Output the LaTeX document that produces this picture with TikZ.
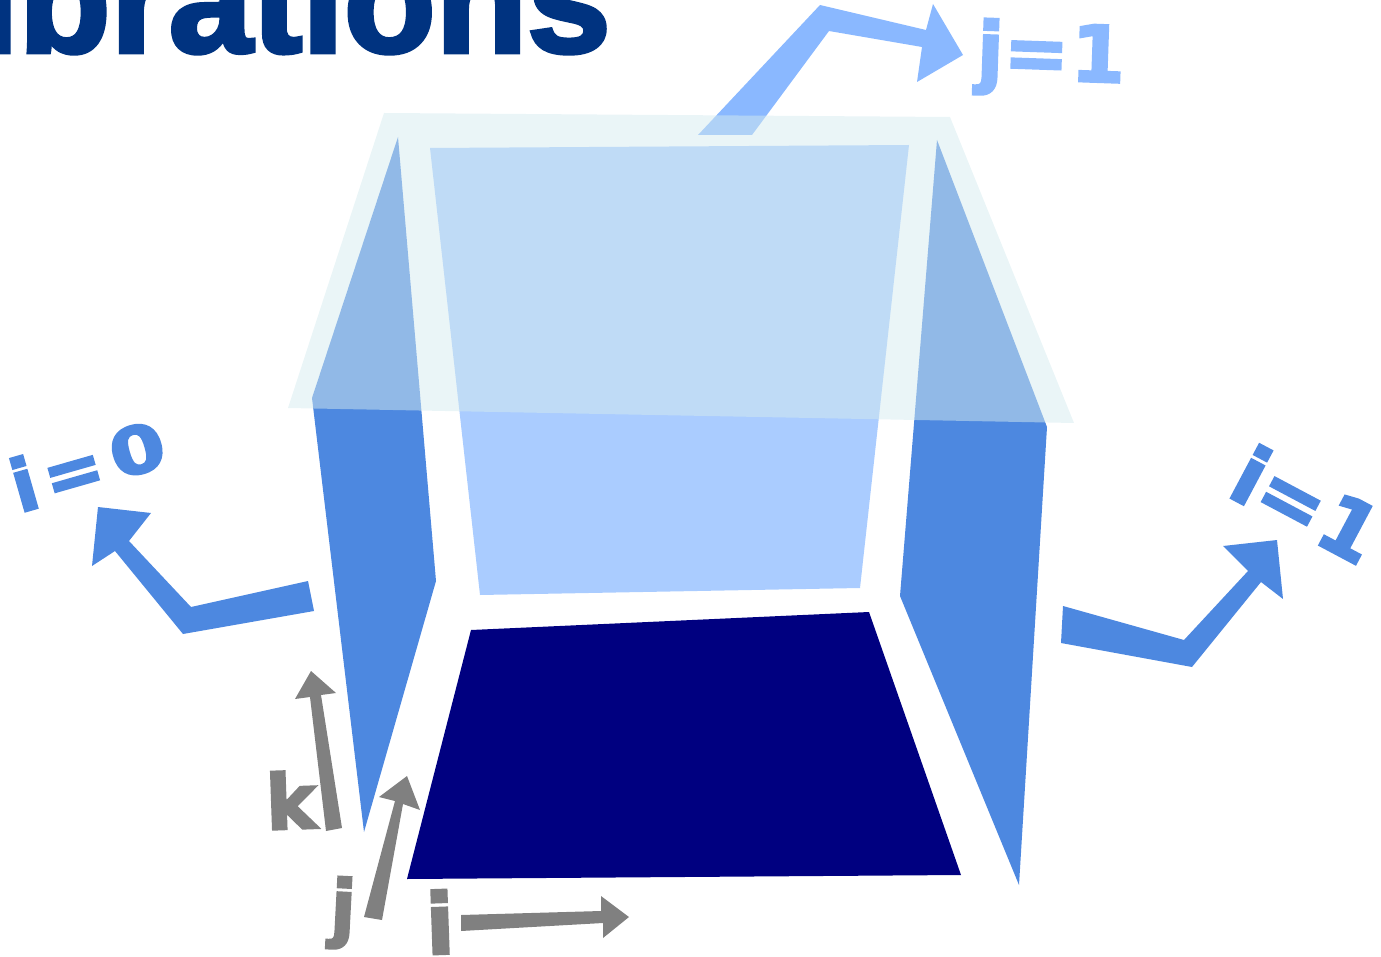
\documentclass[tikz,border=0pt]{standalone}
\usepackage{fontspec}
\setmainfont{DejaVu Sans}
\newfontfamily\titlefont[FakeBold=3]{Liberation Sans Bold}
\newfontfamily\labfont[FakeBold=3]{DejaVu Sans Bold}
\definecolor{navyface}{HTML}{000080}
\definecolor{sideface}{HTML}{4D88E0}
\definecolor{backface}{HTML}{AACCFF}
\definecolor{toparrow}{HTML}{8AB8FF}
\definecolor{topface}{HTML}{D5EBEF}
\definecolor{titleblue}{HTML}{003380}
\definecolor{axisgray}{HTML}{808080}
\tikzset{
  lab/.style={inner sep=0pt,font=\labfont\fontsize{#1}{#1}\selectfont},
}
\begin{document}
\begin{tikzpicture}[x=1pt,y=-1pt]
\useasboundingbox (0,0) rectangle (1381,957);
\clip (0,0) rectangle (1381,957);
% title
\node[anchor=base west,inner sep=0pt,text=titleblue] (title) at (-23,52) {\titlefont\fontsize{150}{150}\selectfont ibrations};
% top arrow below the overlay
\fill[toparrow] (698,135)--(752,135)--(829,31)--(922,47)--(917,82)--(963,55)--(933,4)--(926,30)--(820,5)--cycle;
% panels
\fill[backface] (430,148)--(909,145)--(860,588)--(480,595)--cycle;
\fill[sideface] (398,137)--(436,581)--(364,832)--(312,398)--cycle;
\fill[sideface] (937,140)--(1047,427)--(1019,885)--(900,596)--cycle;
\fill[navyface] (471,630)--(869,612)--(961,875)--(407,879)--cycle;
% translucent top face
\fill[topface,opacity=.5] (384,113)--(950,117)--(1074,423)--(288,408)--cycle;
% blue arrows
\fill[sideface] (308,581)--(314,611)--(183,634)--(115,551)--(92,566)--(98,507)--(151,513)--(129,541)--(191,607)--cycle;
\fill[sideface] (1063,606)--(1061,643)--(1192,667)--(1261,582)--(1283,599)--(1277,540)--(1223,546)--(1248,571)--(1184,640)--cycle;
% axis arrows
\fill[axisgray] (326,831)--(342,828)--(321,695)--(336,693)--(311,671)--(295,699)--(310,697)--cycle;
\fill[axisgray] (364,917)--(382,920)--(403,804)--(420,810)--(407,776)--(379,797)--(395,801)--cycle;
\fill[axisgray] (461,915)--(461,931)--(603,923)--(603,938)--(629,917)--(601,896)--(601,911)--cycle;
% labels
\node[lab=76,text=axisgray,rotate=2] (labk) at (291,800) {k};
\node[lab=74,text=axisgray,rotate=-3] (labj) at (343,913) {j};
\node[lab=84,text=axisgray,rotate=2] (labi) at (440,922) {i};
\node[lab=78,text=toparrow,rotate=-2] (labtop) at (1051,59) {j=\kern2pt 1};
\node[lab=80,text=sideface,rotate=-28] (labright) at (1307,504) {i=\kern3pt 1};
\node[lab=72,text=sideface,rotate=16] (lableft) at (88,465) {i\kern8pt=\kern10pt\raisebox{5pt}{\scalebox{1.1}[.9]{0}}};
\end{tikzpicture}
\end{document}
